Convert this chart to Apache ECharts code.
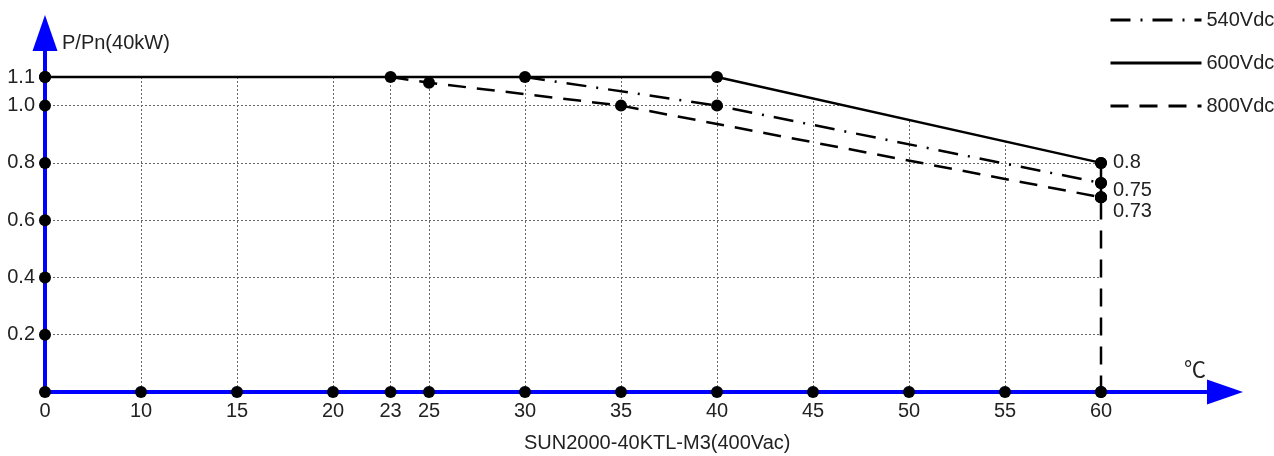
<!DOCTYPE html>
<html>
<head>
<meta charset="utf-8">
<title>SUN2000-40KTL-M3 derating</title>
<script src="https://cdn.jsdelivr.net/npm/echarts@6/dist/echarts.min.js"></script>
<style>
  html, body { margin: 0; padding: 0; background: #fff; }
  #chart { width: 1274px; height: 456px; }
</style>
</head>
<body>
<div id="chart"></div>
<script>
// x ticks (℃) and y ticks (P/Pn)
const xTicks = [0, 10, 15, 20, 23, 25, 30, 35, 40, 45, 50, 55, 60];
const yTicks = [0.2, 0.4, 0.6, 0.8, 1.0, 1.1];

const seriesNames = ['540Vdc', '600Vdc', '800Vdc'];
// [temperature, P/Pn]
const data540 = [[30, 1.1], [40, 1.0], [60, 0.73]];
const data600 = [[0, 1.1], [40, 1.1], [60, 0.8], [60, 0.68]];
const data800 = [[23, 1.1], [25, 1.08], [35, 1.0], [60, 0.68], [60, 0]];
// values written next to the end points at 60 ℃
const endLabels = ['0.8', '0.75', '0.73'];

// the 0-10 stretch of the axis is drawn at half scale
const xPos = t => t < 10 ? 5 + t / 2 : t;
const xVal = p => p < 10 ? Math.round((p - 5) * 2) : p;
const mapPts = arr => arr.map(d => [xPos(d[0]), d[1]]);

const YMAX = 1.2536;
const font = 'Arial, "Liberation Sans", sans-serif';
const gridLine = { show: true, lineStyle: { color: '#666', width: 1, type: [2, 2] } };
const blueAxis = {
    show: true,
    symbol: ['none', 'triangle'],
    symbolSize: [25, 36],
    lineStyle: { color: '#0000ff', width: 4 }
};

// black dots: every tick on both axes plus every point of the curves
let dots = xTicks.map(t => [t, 0])
    .concat(yTicks.map(v => [0, v]))
    .concat(data540, data600, data800);
dots = mapPts(dots);

const ends = mapPts([data600[2], data540[2], data800[3]]);
const endOffsets = [[0, 0], [0, 8], [0, 14]];

// no vertical grid line at the right edge (60)
const gridX = xTicks.slice(0, -1).map(xPos);

const chart = echarts.init(document.getElementById('chart'));
chart.setOption({
    animation: false,
    textStyle: { fontFamily: font },
    title: [
        {
            text: 'SUN2000-40KTL-M3(400Vac)',
            left: 519,
            top: 428,
            textStyle: { fontSize: 20, fontWeight: 'normal', color: '#222', fontFamily: font }
        },
        {
            text: '℃',
            left: 1179,
            top: 353,
            textStyle: { fontSize: 22, fontWeight: 'normal', color: '#222', fontFamily: '"Noto Sans CJK SC", sans-serif' }
        }
    ],
    legend: {
        data: seriesNames,
        orient: 'vertical',
        left: 1104,
        top: 5,
        itemWidth: 91,
        itemHeight: 14,
        itemGap: 23,
        selectedMode: false,
        lineStyle: { width: 3 },
        itemStyle: { opacity: 0 },
        textStyle: { fontSize: 20, color: '#222', fontFamily: font }
    },
    grid: [
        { left: 45, right: 173, top: 33, bottom: 64 },
        { left: 45, right: 49, top: 33, bottom: 64 }
    ],
    xAxis: [
        {
            type: 'value', gridIndex: 0, min: 5, max: 60,
            axisLine: { show: false },
            axisTick: { show: false, customValues: gridX },
            axisLabel: {
                customValues: xTicks.map(xPos),
                formatter: v => String(xVal(v)),
                fontSize: 20, color: '#222', margin: 9
            },
            splitLine: gridLine
        },
        {
            type: 'value', gridIndex: 1, min: 5, max: 66.46, z: 5,
            axisLine: blueAxis,
            axisTick: { show: false },
            axisLabel: { show: false },
            splitLine: { show: false }
        }
    ],
    yAxis: [
        {
            type: 'value', gridIndex: 0, min: 0, max: YMAX,
            axisLine: { show: false },
            axisTick: { show: false, customValues: yTicks },
            axisLabel: {
                customValues: yTicks,
                formatter: v => v.toFixed(1),
                fontSize: 20, color: '#222', margin: 10
            },
            splitLine: gridLine
        },
        {
            type: 'value', gridIndex: 1, min: 0, max: YMAX, z: 5,
            axisLine: blueAxis,
            axisTick: { show: false },
            axisLabel: { show: false },
            splitLine: { show: false },
            name: 'P/Pn(40kW)',
            nameLocation: 'end',
            nameGap: -10,
            nameTextStyle: {
                fontSize: 20, color: '#222', fontFamily: font,
                align: 'left', verticalAlign: 'middle', padding: [0, 0, 0, 17]
            }
        }
    ],
    series: [
        {
            // white fill above this curve hides the grid there
            name: '600Vdc', type: 'line', data: mapPts(data600),
            symbol: 'none', z: 2,
            lineStyle: { color: '#000', width: 2.5 },
            itemStyle: { color: '#000' },
            areaStyle: { color: '#fff', opacity: 1, origin: 'end' }
        },
        {
            name: '540Vdc', type: 'line', data: mapPts(data540),
            symbol: 'none', z: 3,
            lineStyle: { color: '#000', width: 2.5, type: [20, 10, 2, 10] },
            itemStyle: { color: '#000' }
        },
        {
            name: '800Vdc', type: 'line', data: mapPts(data800),
            symbol: 'none', z: 3,
            lineStyle: { color: '#000', width: 2.5, type: [18, 11] },
            itemStyle: { color: '#000' }
        },
        {
            type: 'scatter', data: dots, symbolSize: 12, z: 10, clip: false,
            itemStyle: { color: '#000', opacity: 1 }
        },
        {
            type: 'scatter', z: 10, clip: false, symbolSize: 12,
            itemStyle: { color: '#000', opacity: 1 },
            data: ends.map((p, i) => ({
                value: p,
                label: {
                    show: true, position: 'right', distance: 6,
                    offset: endOffsets[i],
                    formatter: endLabels[i],
                    fontSize: 20, color: '#222'
                }
            }))
        }
    ]
});
</script>
</body>
</html>
